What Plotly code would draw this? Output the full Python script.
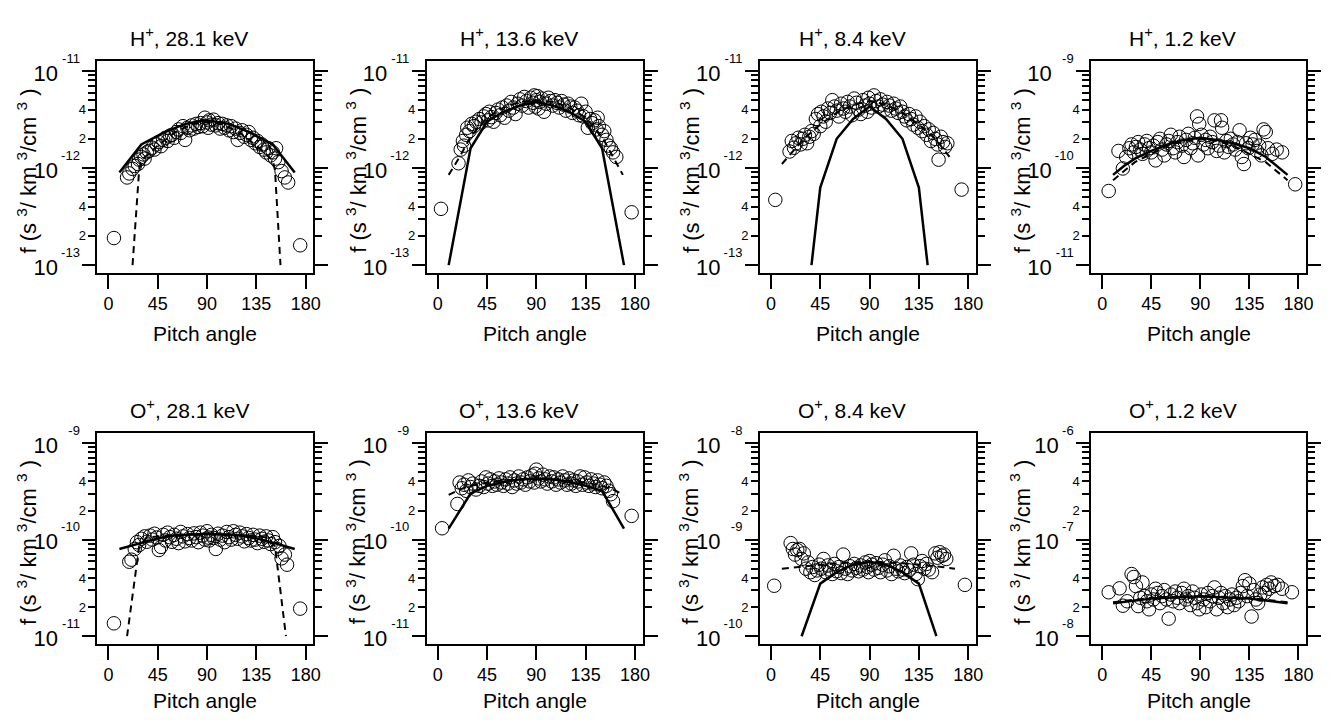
import plotly.graph_objects as go

PAGE_W, PAGE_H = 1333, 724
OFF = 0
W, H = PAGE_W - 2 * OFF, PAGE_H - 2 * OFF
FONT = "Liberation Sans"

# ---------------- data ----------------
# H+ 28.1 keV
h28_pa = [5, 17, 19, 22, 24, 27, 28, 30, 32, 33, 35, 37, 40, 42, 44, 46, 48, 50, 52, 54, 56, 58, 60, 62, 64, 66, 68, 70,
          72, 74, 76, 78, 80, 82, 84, 86, 88, 90, 91, 92, 94, 96, 98, 100, 102, 104, 106, 108, 110, 112, 114, 116, 118,
          120, 122, 124, 126, 128, 130, 132, 134, 136, 138, 140, 142, 144, 146, 148, 150, 152, 153, 155, 158, 161, 164, 175]
h28_f = [1.9e-13, 8.0e-13, 8.8e-13, 9.8e-13, 1.05e-12, 1.10e-12, 1.22e-12, 1.30e-12, 1.38e-12, 1.25e-12, 1.45e-12, 1.50e-12,
         1.62e-12, 1.55e-12, 1.75e-12, 1.85e-12, 1.68e-12, 1.95e-12, 2.05e-12, 1.90e-12, 2.15e-12, 2.20e-12, 2.05e-12,
         2.35e-12, 2.50e-12, 2.30e-12, 2.70e-12, 1.95e-12, 2.60e-12, 2.45e-12, 2.75e-12, 2.55e-12, 2.85e-12, 2.65e-12,
         2.90e-12, 2.70e-12, 3.30e-12, 2.95e-12, 2.60e-12, 3.10e-12, 2.80e-12, 3.15e-12, 2.75e-12, 2.90e-12, 2.55e-12,
         2.85e-12, 2.60e-12, 2.75e-12, 2.45e-12, 2.70e-12, 2.35e-12, 2.55e-12, 1.95e-12, 2.30e-12, 2.45e-12, 2.10e-12,
         2.20e-12, 2.35e-12, 1.95e-12, 2.05e-12, 1.80e-12, 1.90e-12, 1.65e-12, 1.75e-12, 1.55e-12, 1.45e-12, 1.60e-12,
         1.35e-12, 1.45e-12, 1.25e-12, 1.60e-12, 1.15e-12, 9.3e-13, 8.0e-13, 7.1e-13, 1.6e-13]
h28_solid_pa = [10, 30, 50, 70, 90, 110, 130, 150, 170]
h28_solid_f = [9.0e-13, 1.75e-12, 2.3e-12, 2.85e-12, 3.1e-12, 2.85e-12, 2.3e-12, 1.75e-12, 9.0e-13]
h28_dash_pa = [22, 28, 30, 45, 60, 75, 90, 105, 120, 135, 150, 152, 157]
h28_dash_f = [1.0e-13, 9.5e-13, 1.2e-12, 1.7e-12, 2.3e-12, 2.8e-12, 3.0e-12, 2.8e-12, 2.3e-12, 1.7e-12, 1.2e-12, 9.5e-13, 1.0e-13]

# H+ 13.6 keV
h13_pa = [3, 19, 21, 23, 24, 26, 27, 29, 31, 33, 35, 38, 40, 42, 44, 46, 47, 49, 51, 53, 55, 57, 59, 61, 63, 65, 67, 69,
          71, 73, 75, 77, 79, 81, 83, 85, 87, 88, 89, 90, 91, 92, 93, 95, 97, 99, 101, 103, 105, 107, 109, 111, 113, 115,
          117, 119, 121, 123, 125, 127, 129, 131, 133, 135, 137, 139, 141, 143, 145, 146, 147, 150, 152, 154, 156, 158,
          160, 163, 177]
h13_f = [3.8e-13, 1.12e-12, 1.55e-12, 1.90e-12, 1.70e-12, 2.20e-12, 2.60e-12, 2.40e-12, 2.85e-12, 2.70e-12, 3.00e-12,
         3.20e-12, 2.95e-12, 3.40e-12, 3.60e-12, 3.10e-12, 3.80e-12, 3.35e-12, 3.00e-12, 3.70e-12, 4.00e-12, 3.50e-12,
         4.20e-12, 3.30e-12, 4.40e-12, 3.90e-12, 4.80e-12, 4.20e-12, 3.60e-12, 4.60e-12, 5.10e-12, 4.40e-12, 5.40e-12,
         4.90e-12, 4.20e-12, 5.30e-12, 4.70e-12, 5.60e-12, 4.30e-12, 5.00e-12, 5.50e-12, 4.10e-12, 4.80e-12, 5.20e-12,
         3.80e-12, 4.60e-12, 5.30e-12, 4.90e-12, 4.40e-12, 5.00e-12, 4.70e-12, 4.20e-12, 4.90e-12, 4.50e-12, 3.90e-12,
         4.60e-12, 4.30e-12, 3.70e-12, 4.20e-12, 3.90e-12, 3.50e-12, 4.60e-12, 3.40e-12, 3.80e-12, 2.60e-12, 3.20e-12,
         2.90e-12, 3.10e-12, 2.50e-12, 3.30e-12, 2.70e-12, 2.20e-12, 2.40e-12, 1.95e-12, 1.70e-12, 1.60e-12, 1.45e-12,
         1.30e-12, 3.5e-13]
h13_solid_pa = [10, 30, 45, 60, 75, 90, 105, 120, 135, 150, 170]
h13_solid_f = [1.0e-13, 1.6e-12, 3.0e-12, 3.8e-12, 4.4e-12, 4.8e-12, 4.4e-12, 3.8e-12, 3.0e-12, 1.6e-12, 1.0e-13]
h13_dash_pa = [10, 20, 30, 45, 60, 75, 90, 105, 120, 135, 150, 160, 169]
h13_dash_f = [8.5e-13, 1.3e-12, 2.1e-12, 3.3e-12, 4.2e-12, 4.8e-12, 5.0e-12, 4.8e-12, 4.2e-12, 3.3e-12, 2.1e-12, 1.3e-12, 8.5e-13]

# H+ 8.4 keV
h8_pa = [4, 17, 19, 21, 23, 25, 27, 29, 31, 33, 35, 37, 39, 41, 43, 45, 46, 48, 50, 52, 54, 56, 58, 60, 62, 64, 66, 68, 70,
         72, 74, 76, 78, 80, 82, 84, 86, 88, 89, 90, 92, 94, 96, 98, 100, 102, 104, 106, 108, 110, 112, 114, 116, 118,
         120, 122, 124, 126, 128, 130, 132, 134, 136, 138, 140, 142, 144, 146, 148, 150, 152, 153, 155, 157, 159, 161, 174]
h8_f = [4.7e-13, 1.48e-12, 1.90e-12, 1.62e-12, 1.80e-12, 2.05e-12, 1.75e-12, 2.00e-12, 2.20e-12, 1.80e-12, 2.10e-12,
        2.40e-12, 2.25e-12, 3.20e-12, 3.60e-12, 2.70e-12, 3.80e-12, 3.40e-12, 3.00e-12, 4.10e-12, 3.70e-12, 5.00e-12,
        4.30e-12, 3.90e-12, 3.40e-12, 4.60e-12, 4.10e-12, 3.80e-12, 4.80e-12, 4.30e-12, 3.50e-12, 5.20e-12, 4.70e-12,
        4.00e-12, 3.60e-12, 5.00e-12, 4.40e-12, 3.80e-12, 5.30e-12, 4.60e-12, 4.20e-12, 5.60e-12, 4.90e-12, 4.30e-12,
        5.10e-12, 4.50e-12, 4.00e-12, 4.80e-12, 4.40e-12, 3.90e-12, 4.60e-12, 4.10e-12, 3.70e-12, 4.30e-12, 3.80e-12,
        3.40e-12, 3.10e-12, 3.60e-12, 3.20e-12, 2.80e-12, 3.40e-12, 2.60e-12, 3.00e-12, 2.40e-12, 2.70e-12, 2.20e-12,
        2.50e-12, 1.90e-12, 2.30e-12, 2.00e-12, 1.75e-12, 1.22e-12, 2.10e-12, 1.85e-12, 1.65e-12, 1.80e-12, 6.0e-13]
h8_solid_pa = [37, 45, 60, 75, 90, 105, 120, 135, 143]
h8_solid_f = [1.0e-13, 6.3e-13, 2.0e-12, 3.2e-12, 4.3e-12, 3.2e-12, 2.0e-12, 6.3e-13, 1.0e-13]
h8_dash_pa = [10, 20, 30, 45, 60, 75, 90, 105, 120, 135, 150, 163]
h8_dash_f = [1.1e-12, 1.5e-12, 2.0e-12, 2.8e-12, 3.7e-12, 4.5e-12, 4.9e-12, 4.5e-12, 3.7e-12, 2.8e-12, 2.0e-12, 1.3e-12]

# H+ 1.2 keV
h1_pa = [6, 15, 19, 22, 25, 27, 29, 31, 33, 35, 37, 39, 41, 43, 45, 47, 49, 51, 53, 55, 57, 59, 61, 63, 65, 67, 69, 71, 73,
         75, 77, 79, 81, 83, 85, 87, 88, 89, 91, 93, 95, 97, 99, 101, 103, 105, 107, 109, 110, 112, 114, 116, 118, 120,
         122, 124, 126, 128, 130, 132, 134, 136, 138, 140, 142, 144, 146, 148, 150, 152, 156, 160, 165, 177]
h1_f = [5.8e-11, 1.50e-10, 9.9e-11, 1.30e-10, 1.60e-10, 1.75e-10, 1.45e-10, 1.65e-10, 1.85e-10, 1.55e-10, 1.40e-10,
        1.75e-10, 1.90e-10, 1.60e-10, 1.45e-10, 1.70e-10, 1.20e-10, 1.85e-10, 2.00e-10, 1.55e-10, 1.35e-10, 1.75e-10,
        1.90e-10, 2.20e-10, 1.60e-10, 1.45e-10, 1.85e-10, 2.10e-10, 1.70e-10, 1.30e-10, 1.95e-10, 2.25e-10, 1.60e-10,
        1.80e-10, 2.05e-10, 3.40e-10, 1.35e-10, 2.85e-10, 2.20e-10, 1.75e-10, 1.95e-10, 1.60e-10, 2.10e-10, 1.85e-10,
        3.10e-10, 1.50e-10, 1.70e-10, 3.10e-10, 2.60e-10, 1.45e-10, 1.90e-10, 1.65e-10, 2.00e-10, 1.75e-10, 1.55e-10,
        1.85e-10, 2.45e-10, 1.30e-10, 1.10e-10, 1.80e-10, 1.60e-10, 2.05e-10, 1.75e-10, 1.95e-10, 1.50e-10, 1.70e-10,
        1.35e-10, 2.50e-10, 2.35e-10, 1.60e-10, 1.40e-10, 1.55e-10, 1.45e-10, 6.8e-11]
h1_solid_pa = [10, 20, 30, 45, 60, 75, 90, 105, 120, 135, 150, 170]
h1_solid_f = [8.5e-11, 1.05e-10, 1.25e-10, 1.5e-10, 1.75e-10, 1.95e-10, 2.05e-10, 1.95e-10, 1.8e-10, 1.6e-10, 1.3e-10, 8.5e-11]
h1_dash_pa = [10, 30, 45, 60, 75, 90, 105, 120, 135, 150, 170]
h1_dash_f = [7.5e-11, 1.15e-10, 1.4e-10, 1.7e-10, 1.9e-10, 2.0e-10, 1.9e-10, 1.7e-10, 1.4e-10, 1.15e-10, 7.5e-11]

# O+ 28.1 keV
o28_pa = [5, 19, 21, 24, 26, 28, 30, 33, 35, 38, 40, 42, 44, 46, 48, 50, 52, 54, 56, 58, 60, 62, 64, 66, 68, 70, 72, 74,
          76, 78, 80, 82, 84, 86, 88, 90, 91, 92, 94, 96, 98, 100, 102, 104, 106, 108, 110, 112, 114, 116, 118, 120, 122,
          124, 126, 128, 130, 132, 134, 136, 138, 140, 142, 144, 146, 148, 150, 152, 154, 156, 158, 161, 163, 175]
o28_f = [1.36e-11, 5.9e-11, 6.2e-11, 8.0e-11, 9.4e-11, 8.8e-11, 1.02e-10, 1.08e-10, 9.5e-11, 1.10e-10, 1.00e-10,
         1.15e-10, 1.05e-10, 7.8e-11, 8.4e-11, 1.12e-10, 9.8e-11, 1.18e-10, 1.06e-10, 9.5e-11, 1.12e-10, 1.02e-10,
         9.2e-11, 1.20e-10, 1.08e-10, 9.6e-11, 1.14e-10, 1.04e-10, 9.8e-11, 1.16e-10, 1.06e-10, 9.4e-11, 1.18e-10,
         1.10e-10, 1.00e-10, 1.22e-10, 1.05e-10, 9.8e-11, 1.12e-10, 1.04e-10, 8.0e-11, 1.15e-10, 1.00e-10, 1.10e-10,
         9.4e-11, 1.20e-10, 1.06e-10, 1.00e-10, 1.22e-10, 1.12e-10, 1.02e-10, 1.18e-10, 1.08e-10, 9.6e-11, 1.14e-10,
         1.04e-10, 9.8e-11, 1.12e-10, 1.00e-10, 9.2e-11, 1.10e-10, 1.02e-10, 9.5e-11, 1.08e-10, 9.8e-11, 9.0e-11,
         1.06e-10, 9.4e-11, 8.0e-11, 8.6e-11, 6.4e-11, 7.0e-11, 5.5e-11, 1.93e-11]
o28_solid_pa = [10, 30, 45, 60, 90, 120, 135, 150, 170]
o28_solid_f = [8.0e-11, 9.3e-11, 1.03e-10, 1.1e-10, 1.15e-10, 1.1e-10, 1.03e-10, 9.3e-11, 8.0e-11]
o28_dash_pa = [17, 28, 35, 60, 90, 120, 145, 152, 162]
o28_dash_f = [1.0e-11, 8.5e-11, 1.05e-10, 1.12e-10, 1.15e-10, 1.12e-10, 1.05e-10, 8.5e-11, 1.0e-11]

# O+ 13.6 keV
o13_pa = [4, 18, 20, 22, 24, 26, 28, 30, 32, 35, 38, 40, 42, 44, 46, 48, 50, 52, 54, 56, 58, 60, 62, 64, 66, 68, 70, 72,
          74, 76, 78, 80, 82, 84, 86, 88, 89, 90, 92, 94, 96, 98, 100, 102, 104, 106, 108, 110, 112, 114, 116, 118, 120,
          122, 124, 126, 128, 130, 132, 134, 136, 138, 140, 142, 144, 146, 148, 150, 152, 154, 156, 158, 160, 177]
o13_f = [1.31e-10, 2.34e-10, 3.90e-10, 3.40e-10, 3.70e-10, 3.20e-10, 4.10e-10, 3.50e-10, 3.80e-10, 3.30e-10, 3.60e-10,
         4.00e-10, 3.50e-10, 4.40e-10, 3.80e-10, 4.20e-10, 3.60e-10, 4.00e-10, 3.70e-10, 4.30e-10, 3.90e-10, 3.60e-10,
         4.20e-10, 3.80e-10, 4.40e-10, 3.50e-10, 4.10e-10, 3.80e-10, 4.50e-10, 3.90e-10, 4.20e-10, 3.70e-10, 4.40e-10,
         4.00e-10, 4.60e-10, 3.90e-10, 4.80e-10, 5.30e-10, 4.30e-10, 4.00e-10, 4.70e-10, 4.20e-10, 3.80e-10, 4.50e-10,
         4.00e-10, 4.40e-10, 3.70e-10, 4.20e-10, 3.90e-10, 4.50e-10, 4.10e-10, 3.70e-10, 4.30e-10, 3.80e-10, 4.10e-10,
         3.60e-10, 4.00e-10, 4.50e-10, 3.70e-10, 4.40e-10, 3.90e-10, 3.60e-10, 4.20e-10, 3.80e-10, 3.50e-10, 4.10e-10,
         3.70e-10, 3.40e-10, 3.90e-10, 3.60e-10, 3.20e-10, 2.95e-10, 2.50e-10, 1.76e-10]
o13_solid_pa = [10, 30, 45, 60, 75, 90, 105, 120, 135, 150, 170]
o13_solid_f = [1.3e-10, 3.0e-10, 3.6e-10, 3.95e-10, 4.2e-10, 4.3e-10, 4.2e-10, 3.95e-10, 3.6e-10, 3.2e-10, 1.3e-10]
o13_dash_pa = [10, 20, 30, 45, 60, 90, 120, 135, 150, 160, 170]
o13_dash_f = [2.9e-10, 3.3e-10, 3.6e-10, 3.9e-10, 4.1e-10, 4.3e-10, 4.1e-10, 3.9e-10, 3.6e-10, 3.3e-10, 2.9e-10]

# O+ 8.4 keV
o8_pa = [3, 18, 20, 22, 24, 26, 28, 30, 32, 34, 36, 38, 40, 42, 44, 46, 48, 50, 52, 54, 56, 58, 60, 62, 64, 66, 68, 70, 72,
         74, 76, 78, 80, 82, 84, 86, 88, 89, 90, 92, 94, 96, 98, 100, 102, 104, 106, 108, 110, 112, 114, 116, 118, 120,
         122, 124, 126, 128, 130, 132, 134, 136, 138, 140, 142, 144, 147, 150, 152, 154, 156, 158, 160, 177]
o8_f = [3.33e-10, 9.2e-10, 8.0e-10, 7.0e-10, 7.8e-10, 8.0e-10, 6.3e-10, 7.2e-10, 5.0e-10, 5.8e-10, 4.6e-10, 5.2e-10,
        4.3e-10, 4.8e-10, 5.5e-10, 5.0e-10, 6.3e-10, 4.6e-10, 5.4e-10, 4.9e-10, 4.4e-10, 5.6e-10, 4.7e-10, 5.2e-10,
        4.5e-10, 7.0e-10, 5.0e-10, 4.4e-10, 5.3e-10, 4.8e-10, 5.6e-10, 5.1e-10, 4.7e-10, 5.4e-10, 4.9e-10, 5.8e-10,
        5.2e-10, 4.6e-10, 6.0e-10, 5.5e-10, 4.9e-10, 5.7e-10, 5.1e-10, 4.6e-10, 5.5e-10, 6.1e-10, 4.8e-10, 5.3e-10,
        4.4e-10, 6.8e-10, 5.0e-10, 4.7e-10, 5.4e-10, 4.9e-10, 4.5e-10, 5.2e-10, 4.8e-10, 7.2e-10, 5.5e-10, 4.4e-10,
        3.9e-10, 5.3e-10, 6.0e-10, 5.0e-10, 5.6e-10, 4.9e-10, 4.6e-10, 7.2e-10, 6.5e-10, 7.4e-10, 6.8e-10, 7.0e-10,
        6.3e-10, 3.40e-10]
o8_solid_pa = [28, 45, 60, 75, 90, 105, 120, 135, 151]
o8_solid_f = [1.0e-10, 3.5e-10, 4.6e-10, 5.5e-10, 5.9e-10, 5.5e-10, 4.6e-10, 3.5e-10, 1.0e-10]
o8_dash_pa = [10, 30, 60, 90, 120, 150, 168]
o8_dash_f = [5.0e-10, 5.3e-10, 5.7e-10, 5.9e-10, 5.7e-10, 5.3e-10, 5.0e-10]

# O+ 1.2 keV
o1_pa = [6, 16, 19, 23, 27, 29, 31, 33, 35, 37, 39, 41, 43, 45, 47, 49, 51, 53, 55, 57, 59, 61, 63, 65, 67, 69, 71, 73, 75,
         77, 79, 81, 83, 85, 87, 89, 91, 93, 95, 97, 99, 101, 103, 105, 107, 109, 111, 113, 115, 117, 119, 121, 123, 125,
         127, 129, 131, 133, 135, 137, 139, 141, 143, 145, 147, 149, 151, 153, 155, 158, 161, 165, 174]
o1_f = [2.85e-8, 3.13e-8, 2.07e-8, 2.30e-8, 4.40e-8, 4.10e-8, 3.30e-8, 2.05e-8, 2.50e-8, 3.60e-8, 2.60e-8, 2.30e-8,
        1.90e-8, 2.70e-8, 2.40e-8, 3.10e-8, 2.80e-8, 2.20e-8, 2.60e-8, 3.00e-8, 2.40e-8, 1.52e-8, 2.70e-8, 2.30e-8,
        2.90e-8, 2.50e-8, 2.20e-8, 2.80e-8, 3.10e-8, 2.40e-8, 2.60e-8, 2.10e-8, 2.90e-8, 2.50e-8, 2.20e-8, 1.90e-8,
        2.70e-8, 2.40e-8, 2.00e-8, 2.80e-8, 2.30e-8, 2.60e-8, 3.20e-8, 1.90e-8, 2.50e-8, 2.80e-8, 2.20e-8, 2.60e-8,
        2.00e-8, 2.40e-8, 2.70e-8, 2.10e-8, 2.50e-8, 2.30e-8, 2.80e-8, 3.30e-8, 3.80e-8, 2.60e-8, 3.50e-8, 1.60e-8,
        3.00e-8, 2.40e-8, 2.20e-8, 2.70e-8, 3.20e-8, 2.80e-8, 3.40e-8, 3.10e-8, 3.60e-8, 3.30e-8, 3.40e-8, 3.10e-8,
        2.85e-8]
o1_solid_pa = [10, 45, 90, 135, 170]
o1_solid_f = [2.2e-8, 2.45e-8, 2.6e-8, 2.45e-8, 2.2e-8]
o1_dash_pa = [10, 45, 90, 135, 170]
o1_dash_f = [2.25e-8, 2.5e-8, 2.6e-8, 2.5e-8, 2.25e-8]

titles = ["H<sup>+</sup>, 28.1 keV", "H<sup>+</sup>, 13.6 keV", "H<sup>+</sup>, 8.4 keV", "H<sup>+</sup>, 1.2 keV",
          "O<sup>+</sup>, 28.1 keV", "O<sup>+</sup>, 13.6 keV", "O<sup>+</sup>, 8.4 keV", "O<sup>+</sup>, 1.2 keV"]
decade_lo = [-13, -13, -13, -11, -11, -11, -10, -8]
decade_hi = [-11, -11, -11, -9, -9, -9, -8, -6]
x_ticks = [0, 45, 90, 135, 180]
x_range = [-10, 187]
x_title = "Pitch angle"
y_title = "f (s <sup>3</sup>/ km <sup>3</sup>/cm <sup>3</sup> )"

scatter_sets = [(h28_pa, h28_f), (h13_pa, h13_f), (h8_pa, h8_f), (h1_pa, h1_f),
                (o28_pa, o28_f), (o13_pa, o13_f), (o8_pa, o8_f), (o1_pa, o1_f)]
solid_sets = [(h28_solid_pa, h28_solid_f), (h13_solid_pa, h13_solid_f), (h8_solid_pa, h8_solid_f),
              (h1_solid_pa, h1_solid_f), (o28_solid_pa, o28_solid_f), (o13_solid_pa, o13_solid_f),
              (o8_solid_pa, o8_solid_f), (o1_solid_pa, o1_solid_f)]
dash_sets = [(h28_dash_pa, h28_dash_f), (h13_dash_pa, h13_dash_f), (h8_dash_pa, h8_dash_f),
             (h1_dash_pa, h1_dash_f), (o28_dash_pa, o28_dash_f), (o13_dash_pa, o13_dash_f),
             (o8_dash_pa, o8_dash_f), (o1_dash_pa, o1_dash_f)]

# ---------------- layout geometry (page pixels) ----------------
BOX_X = [(98, 315), (429, 646), (764, 981), (1097, 1313)]
BOX_Y = [(52, 269), (433, 649)]
X_TITLE_Y = [331, 707]
EXP_SIZE = 13
BASE_SIZE = 22


def fx(p):
    return (p - OFF) / W


def fy(p):
    return 1 - (p - OFF) / H


fig = go.Figure()
layout = dict(width=W, height=H, autosize=False, margin=dict(l=0, r=0, t=0, b=0),
              paper_bgcolor="white", plot_bgcolor="white", showlegend=False,
              font=dict(family=FONT, color="black", size=16))
annotations = []

for i in range(8):
    k = i + 1
    col, row = i % 4, i // 4
    x0, x1 = BOX_X[col]
    yt, yb = BOX_Y[row]
    xd = [fx(x0), fx(x1)]
    yd = [fy(yb), fy(yt)]
    xs = "" if k == 1 else str(k)
    xref, yref = "x" + xs, "y" + xs
    yexp = str(8 + k)
    ybase = str(16 + k)
    lo, hi = decade_lo[i], decade_hi[i]
    yr = [lo - 0.078, hi + 0.105]

    majors = [10.0 ** d for d in range(lo, hi + 1)]
    exp_txt = ["%d" % d for d in range(lo, hi + 1)]
    base_txt = ["10" for d in range(lo, hi + 1)]
    exp_w = EXP_SIZE * (0.333 + 0.556 * (len(exp_txt[0]) - 1))
    lab_vals, lab_txt, minor_vals = [], [], []
    for d in range(lo, hi):
        for m in (2, 3, 4, 5, 6, 7, 8, 9):
            v = m * 10.0 ** d
            if m in (2, 4):
                lab_vals.append(v)
                lab_txt.append(str(m))
            else:
                minor_vals.append(v)

    layout["xaxis" + xs] = dict(domain=xd, anchor=yref, range=x_range, tickmode="array", tickvals=x_ticks,
                                ticks="outside", ticklen=14, tickwidth=2, tickcolor="black",
                                showline=True, linewidth=2, linecolor="black", mirror=True,
                                showgrid=False, zeroline=False, tickfont=dict(size=18, family=FONT))
    layout["yaxis" + xs] = dict(domain=yd, anchor=xref, type="log", range=yr, tickmode="array",
                                tickvals=lab_vals, ticktext=lab_txt, ticks="outside", ticklen=7, tickwidth=1.5,
                                tickcolor="black", showline=True, linewidth=2, linecolor="black", mirror="ticks",
                                showgrid=False, zeroline=False, tickfont=dict(size=13, family=FONT),
                                minor=dict(tickmode="array", tickvals=minor_vals, ticks="outside", ticklen=7,
                                           tickwidth=1.5, tickcolor="black", showgrid=False))
    layout["yaxis" + yexp] = dict(overlaying=yref, anchor=xref, side="left", type="log", range=yr,
                                  tickmode="array", tickvals=majors, ticktext=exp_txt, ticks="outside",
                                  ticklen=14, tickwidth=2, tickcolor="black", showline=False, mirror="ticks",
                                  showgrid=False, zeroline=False, ticklabelshift=-13,
                                  tickfont=dict(size=EXP_SIZE, family=FONT))
    layout["yaxis" + ybase] = dict(overlaying=yref, anchor=xref, side="left", type="log", range=yr,
                                   tickmode="array", tickvals=majors, ticktext=base_txt, ticks="outside",
                                   ticklen=14, tickwidth=0.1, tickcolor="rgba(0,0,0,0)", showline=False,
                                   showgrid=False, zeroline=False, ticklabelshift=2,
                                   ticklabelstandoff=round(exp_w + 1),
                                   tickfont=dict(size=BASE_SIZE, family=FONT))

    px_, pf_ = scatter_sets[i]
    fig.add_trace(go.Scatter(x=px_, y=pf_, mode="markers", xaxis=xref, yaxis=yref, hoverinfo="skip",
                             marker=dict(symbol="circle-open", size=13.5, color="black",
                                         line=dict(width=1, color="black"))))
    dpa, dfv = dash_sets[i]
    fig.add_trace(go.Scatter(x=dpa, y=dfv, mode="lines", xaxis=xref, yaxis=yref, hoverinfo="skip",
                             line=dict(color="black", width=2, dash="7px,5px")))
    spa, sfv = solid_sets[i]
    fig.add_trace(go.Scatter(x=spa, y=sfv, mode="lines", xaxis=xref, yaxis=yref, hoverinfo="skip",
                             line=dict(color="black", width=2.5)))
    fig.add_trace(go.Scatter(x=[], y=[], mode="markers", xaxis=xref, yaxis="y" + yexp, hoverinfo="skip"))
    fig.add_trace(go.Scatter(x=[], y=[], mode="markers", xaxis=xref, yaxis="y" + ybase, hoverinfo="skip"))

    cx = (x0 + x1) / 2
    annotations.append(dict(text=titles[i], x=fx(cx - 16), y=fy(yt - 24), xref="paper", yref="paper",
                            xanchor="center", yanchor="middle", showarrow=False, font=dict(size=21, family=FONT)))
    annotations.append(dict(text=x_title, x=fx(cx), y=fy(X_TITLE_Y[row]), xref="paper", yref="paper",
                            xanchor="center", yanchor="middle", showarrow=False, font=dict(size=21, family=FONT)))
    annotations.append(dict(text=y_title, x=fx(x0 - 71), y=fy((yt + yb) / 2 + 4), xref="paper",
                            yref="paper", xanchor="center", yanchor="middle", textangle=-90, showarrow=False,
                            font=dict(size=22, family=FONT)))

layout["annotations"] = annotations
fig.update_layout(**layout)
fig.write_html("out.html")
